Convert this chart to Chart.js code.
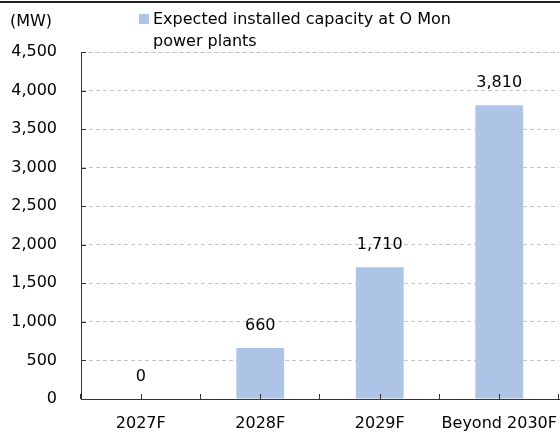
<!DOCTYPE html>
<html>
  <head>
    <meta charset="UTF-8" />
    <title>O Mon capacity</title>
    <script src="https://cdn.jsdelivr.net/npm/chart.js"></script>
    <style type="text/css">
      html, body { margin:0; padding:0; background:#fff; }
      #wrap { width:560px; height:432px; position:relative; }
    </style>
  </head>
  <body>
    <div id="wrap"><canvas id="capacity"></canvas></div>

    <script>
      // data
      var categories = ['2027F', '2028F', '2029F', 'Beyond 2030F'];
      var capacity = [0, 660, 1710, 3810];
      var legendLines = ['Expected installed capacity at O Mon', 'power plants'];
      var unitLabel = '(MW)';

      var FONT = '"DejaVu Sans", Verdana, sans-serif';
      var BAR = '#aec4e6';
      var GRID = '#c6c6c6';

      // legend, unit, top rule, inner ticks and value labels
      var decorations = {
        id: 'decorations',
        afterDraw: function(chart){
          var ctx = chart.ctx;
          var area = chart.chartArea;
          var x = chart.scales.x;
          var y = chart.scales.y;
          ctx.save();

          ctx.fillStyle = '#222';
          ctx.fillRect(0, 1, 560, 2);

          // top grid line (at the axis max)
          var topY = Math.round(y.getPixelForValue(y.max)) + 0.5;
          ctx.strokeStyle = GRID;
          ctx.lineWidth = 1;
          ctx.setLineDash([4, 3]);
          ctx.beginPath();
          ctx.moveTo(area.left, topY); ctx.lineTo(area.right, topY);
          ctx.stroke();
          ctx.setLineDash([]);

          ctx.font = '16px ' + FONT;
          ctx.fillStyle = '#000';
          ctx.textBaseline = 'middle';
          ctx.textAlign = 'left';
          ctx.fillText(unitLabel, 10, 22);

          ctx.fillStyle = BAR;
          ctx.fillRect(139, 14, 10, 10);
          ctx.fillStyle = '#000';
          ctx.fillText(legendLines[0], 153, 20);
          ctx.fillText(legendLines[1], 153, 42);

          // small ticks pointing into the plot
          ctx.strokeStyle = '#333';
          var n = categories.length;
          var step = (area.right - area.left) / n;
          ctx.beginPath();
          for (var i = 0; i <= n; i++){
            var bx = Math.round(area.left + i * step) - 0.5;
            ctx.moveTo(bx, area.bottom); ctx.lineTo(bx, area.bottom - 5);
          }
          for (var j = 0; j < n; j++){
            var cx = Math.round(x.getPixelForValue(j)) + 0.5;
            ctx.moveTo(cx, area.bottom); ctx.lineTo(cx, area.bottom - 5);
          }
          y.ticks.forEach(function(t){
            var ty = Math.round(y.getPixelForValue(t.value)) + 0.5;
            ctx.moveTo(area.left, ty); ctx.lineTo(area.left + 5, ty);
          });
          ctx.stroke();

          // value labels above bars
          var meta = chart.getDatasetMeta(0);
          ctx.textAlign = 'center';
          ctx.fillStyle = '#000';
          meta.data.forEach(function(bar, k){
            ctx.fillText(capacity[k].toLocaleString('en-US'), bar.x, bar.y - 22);
          });
          ctx.restore();
        }
      };

      new Chart(document.getElementById('capacity'), {
        type: 'bar',
        data: {
          labels: categories,
          datasets: [{
            label: legendLines.join(' '),
            data: capacity,
            backgroundColor: BAR,
            borderWidth: 0,
            categoryPercentage: 1,
            barPercentage: 0.4
          }]
        },
        options: {
          responsive: true,
          maintainAspectRatio: false,
          animation: false,
          layout: { padding: { top: 52, right: 1, left: 0, bottom: 0 } },
          plugins: {
            legend: { display: false },
            tooltip: { enabled: false }
          },
          scales: {
            x: {
              afterFit: function(s){ s.height = 33; s.paddingLeft = 0; s.paddingRight = 0; },
              grid: { display: false, drawTicks: false },
              border: { display: true, color: '#333', width: 1 },
              ticks: {
                color: '#000',
                padding: 15,
                maxRotation: 0,
                minRotation: 0,
                autoSkip: false,
                font: { family: FONT, size: 16 }
              }
            },
            y: {
              min: 0,
              max: 4500,
              afterFit: function(s){ s.width = 81; s.paddingTop = 0; s.paddingBottom = 0; },
              grid: { color: GRID, drawTicks: false },
              border: { display: true, color: '#333', width: 1, dash: [4, 3] },
              ticks: {
                stepSize: 500,
                color: '#000',
                padding: 24,
                font: { family: FONT, size: 16 },
                callback: function(v){ return v.toLocaleString('en-US'); }
              }
            }
          }
        },
        plugins: [decorations]
      });
    </script>
  </body>
</html>
